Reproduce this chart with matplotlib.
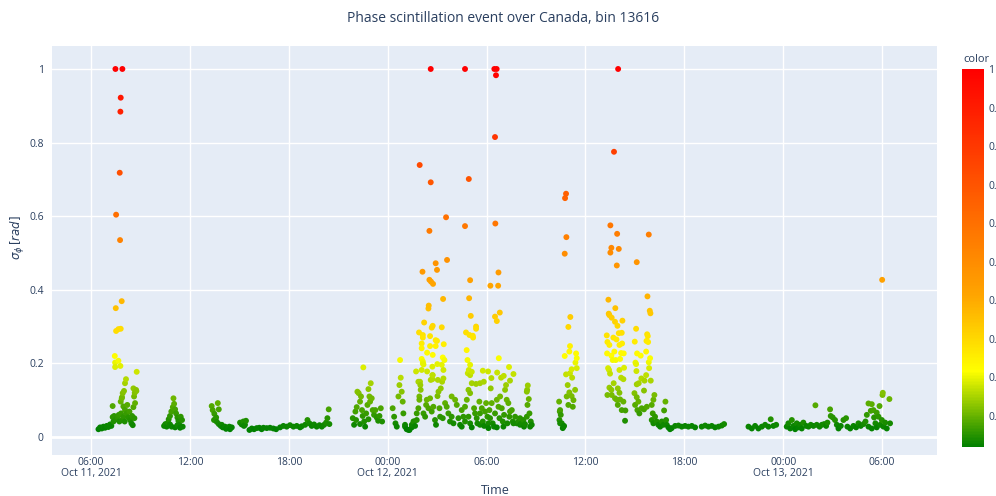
import numpy as np
import pandas as pd
import matplotlib
matplotlib.use("Agg")
import matplotlib.pyplot as plt
import matplotlib.dates as mdates
from matplotlib.colors import LinearSegmentedColormap, Normalize
from matplotlib.ticker import FixedLocator, FuncFormatter

# ---- data: (hours since 2021-10-11 00:00 UT, sigma_phi [rad]) ----
pass_a = [(6.45, 0.021), (6.55, 0.026), (6.65, 0.023), (6.75, 0.028), (6.85, 0.025), (6.95, 0.030),
          (7.05, 0.027), (7.15, 0.034), (7.23, 0.030), (7.31, 0.054), (7.36, 0.042), (7.40, 0.057),
          (7.52, 0.048), (7.60, 0.054), (7.68, 0.060), (7.31, 0.084), (7.80, 0.096), (7.86, 0.105),
          (7.92, 0.119), (8.00, 0.125), (8.06, 0.146), (8.12, 0.157), (7.96, 0.083), (8.06, 0.074),
          (8.16, 0.064), (8.20, 0.087), (8.27, 0.053), (8.33, 0.069), (8.37, 0.046), (8.45, 0.037),
          (8.53, 0.032), (8.57, 0.132), (8.65, 0.120), (8.73, 0.128), (8.61, 0.110), (8.67, 0.092),
          (8.57, 0.081), (8.49, 0.057), (8.63, 0.051), (7.82, 0.064), (7.90, 0.046), (8.04, 0.042),
          (7.72, 0.042), (7.96, 0.054), (7.48, 1.000), (7.90, 1.000), (7.80, 0.922), (7.78, 0.884),
          (7.74, 0.718), (7.52, 0.604), (7.76, 0.535), (7.86, 0.369), (7.50, 0.350), (7.52, 0.288),
          (7.66, 0.293), (7.80, 0.294), (7.44, 0.220), (7.46, 0.202), (7.66, 0.207), (7.46, 0.190),
          (7.78, 0.193), (8.77, 0.177), (8.75, 0.125), (7.88, 0.108)]

pass_b = [(10.43, 0.030), (10.51, 0.035), (10.59, 0.028), (10.67, 0.039), (10.71, 0.048), (10.79, 0.057),
          (10.87, 0.069), (10.96, 0.081), (11.00, 0.105), (11.04, 0.090), (11.10, 0.075), (11.16, 0.064),
          (11.24, 0.053), (11.30, 0.044), (11.36, 0.033), (11.44, 0.055), (11.52, 0.046), (11.56, 0.028),
          (10.89, 0.028), (11.10, 0.026), (11.24, 0.032), (11.40, 0.025), (10.79, 0.034),
          (13.32, 0.084), (13.69, 0.092), (13.38, 0.073), (13.75, 0.075), (13.48, 0.063), (13.59, 0.053),
          (13.46, 0.046), (13.63, 0.041), (13.75, 0.035), (13.87, 0.030), (13.99, 0.026), (14.13, 0.028),
          (14.27, 0.025), (14.39, 0.028), (14.54, 0.026), (14.43, 0.021), (14.19, 0.022), (13.93, 0.033),
          (13.54, 0.048), (15.04, 0.039), (15.14, 0.034), (15.24, 0.042), (15.34, 0.033), (15.40, 0.044),
          (15.28, 0.030)]

pass_c = [(15.61, 0.019), (15.75, 0.023), (15.89, 0.021), (16.05, 0.024), (16.21, 0.025), (16.35, 0.021),
          (16.46, 0.025), (16.66, 0.024), (16.86, 0.025), (17.06, 0.023), (17.23, 0.021), (17.47, 0.026),
          (17.67, 0.030), (17.87, 0.028), (18.07, 0.032), (18.28, 0.028), (18.48, 0.030), (18.68, 0.026),
          (18.78, 0.029), (18.99, 0.033), (19.13, 0.046), (19.25, 0.037), (19.39, 0.030), (19.53, 0.034),
          (19.69, 0.028), (19.86, 0.032), (20.00, 0.028), (20.14, 0.033), (20.26, 0.039), (20.34, 0.051),
          (20.42, 0.075), (20.46, 0.035)]

pass_d = [(21.88, 0.051), (21.96, 0.033), (22.04, 0.069), (22.12, 0.081), (22.16, 0.123), (22.24, 0.119),
          (22.32, 0.096), (22.38, 0.110), (22.44, 0.073), (22.48, 0.057), (22.52, 0.189), (22.57, 0.042),
          (22.63, 0.028), (22.69, 0.064), (22.77, 0.087), (22.83, 0.130), (22.89, 0.110), (22.93, 0.096),
          (22.97, 0.146), (23.03, 0.105), (23.09, 0.073), (23.17, 0.060), (23.25, 0.073), (23.33, 0.053),
          (23.42, 0.044), (23.50, 0.057), (23.58, 0.078), (23.66, 0.042), (22.32, 0.035), (22.83, 0.048),
          (22.08, 0.046), (24.30, 0.078), (24.39, 0.055), (24.47, 0.037), (24.55, 0.028), (24.65, 0.110),
          (24.71, 0.141), (24.75, 0.209), (24.79, 0.161), (24.85, 0.123), (24.91, 0.096), (24.95, 0.064),
          (25.05, 0.033), (25.15, 0.021), (25.32, 0.019), (25.46, 0.026), (25.60, 0.042), (25.72, 0.178),
          (25.76, 0.064), (25.86, 0.150), (25.92, 0.110), (25.26, 0.019), (25.46, 0.033), (25.66, 0.030),
          (25.76, 0.046), (25.86, 0.078), (25.92, 0.101), (26.00, 0.128), (25.96, 0.150), (26.06, 0.182),
          (26.13, 0.205), (26.17, 0.064), (26.27, 0.055), (26.33, 0.087), (26.37, 0.101), (26.47, 0.078),
          (26.57, 0.105), (26.61, 0.155), (26.67, 0.069), (26.77, 0.082), (26.73, 0.168), (26.87, 0.046),
          (26.93, 0.033), (27.02, 0.111), (27.08, 0.123), (27.14, 0.078), (27.18, 0.055), (27.22, 0.132),
          (27.34, 0.051), (27.38, 0.159), (27.48, 0.092), (27.58, 0.082), (27.68, 0.064), (27.78, 0.042),
          (27.88, 0.055), (27.88, 0.110), (27.99, 0.037), (28.09, 0.101), (28.19, 0.087), (28.29, 0.051),
          (28.39, 0.033), (28.49, 0.028), (28.59, 0.055), (28.69, 0.042), (25.56, 0.042), (25.05, 0.028)]

pass_e = [(26.61, 1.000), (28.69, 1.000), (30.47, 1.000), (30.61, 1.000), (30.57, 0.983), (30.51, 0.815),
          (25.94, 0.739), (26.61, 0.692), (28.92, 0.701), (27.54, 0.597), (28.69, 0.573), (30.53, 0.580),
          (26.53, 0.560), (27.60, 0.481), (26.91, 0.472), (26.11, 0.449), (26.99, 0.454), (30.72, 0.447),
          (26.53, 0.427), (26.63, 0.422), (26.75, 0.416), (29.00, 0.426), (30.23, 0.411), (30.70, 0.411),
          (27.36, 0.375), (28.94, 0.377), (26.49, 0.357), (26.47, 0.349), (29.04, 0.329), (30.80, 0.338),
          (30.51, 0.327), (30.62, 0.315), (26.21, 0.311), (26.73, 0.302), (26.67, 0.297), (27.28, 0.298),
          (29.36, 0.300), (29.36, 0.294), (25.90, 0.284), (26.13, 0.277), (26.13, 0.270), (28.75, 0.284),
          (28.96, 0.277), (29.16, 0.275), (29.18, 0.270), (26.57, 0.274), (26.91, 0.263), (26.99, 0.261),
          (26.06, 0.254), (26.06, 0.241), (26.57, 0.247), (27.40, 0.252), (26.91, 0.247), (26.39, 0.229),
          (26.73, 0.223), (28.79, 0.236), (27.34, 0.216), (27.44, 0.209), (30.74, 0.214), (28.84, 0.209),
          (26.06, 0.212), (26.13, 0.200), (26.17, 0.197), (26.71, 0.191), (27.01, 0.198), (27.28, 0.196),
          (29.00, 0.196), (28.92, 0.182), (28.86, 0.173), (29.10, 0.177), (29.00, 0.168), (26.39, 0.178),
          (27.38, 0.182), (26.71, 0.168), (26.71, 0.157), (27.04, 0.155), (27.30, 0.150), (29.77, 0.180),
          (30.09, 0.178), (30.64, 0.175), (31.36, 0.190), (31.63, 0.171), (30.29, 0.160), (31.04, 0.166),
          (30.88, 0.161), (31.42, 0.153), (25.98, 0.141), (29.36, 0.144), (29.60, 0.146), (29.83, 0.150),
          (32.50, 0.140), (32.44, 0.123), (32.56, 0.103)]

pass_f = [(28.80, 0.101), (28.90, 0.128), (29.00, 0.119), (29.10, 0.146), (29.24, 0.078), (29.30, 0.064),
          (29.40, 0.051), (29.44, 0.037), (29.56, 0.096), (29.60, 0.064), (29.71, 0.078), (29.77, 0.042),
          (29.85, 0.030), (29.91, 0.069), (29.97, 0.092), (30.05, 0.055), (30.11, 0.037), (30.17, 0.073),
          (30.21, 0.051), (30.25, 0.132), (30.31, 0.092), (30.37, 0.037), (30.45, 0.028), (30.51, 0.064),
          (30.62, 0.101), (30.72, 0.082), (30.78, 0.051), (30.82, 0.110), (30.92, 0.078), (30.98, 0.042),
          (31.06, 0.060), (31.12, 0.128), (31.18, 0.141), (31.22, 0.101), (31.26, 0.037), (31.32, 0.092),
          (31.38, 0.055), (31.42, 0.069), (31.53, 0.073), (31.59, 0.042), (31.63, 0.037), (31.73, 0.055),
          (31.83, 0.037), (31.93, 0.042), (32.03, 0.051), (32.13, 0.037), (32.23, 0.046), (32.33, 0.035),
          (32.44, 0.055), (32.48, 0.087), (32.46, 0.128), (32.60, 0.064), (32.68, 0.042), (32.74, 0.033),
          (32.64, 0.028), (32.27, 0.028), (32.03, 0.033), (31.02, 0.028), (30.62, 0.026), (30.11, 0.024),
          (29.00, 0.037), (29.10, 0.026), (29.60, 0.033), (28.90, 0.055), (28.49, 0.073), (28.69, 0.082)]

pass_g = [(34.82, 0.661), (34.76, 0.649), (34.84, 0.543), (34.74, 0.498), (35.08, 0.326), (34.96, 0.299),
          (35.06, 0.247), (35.02, 0.232), (34.74, 0.220), (35.43, 0.227), (35.47, 0.214), (35.39, 0.202),
          (35.47, 0.187), (35.16, 0.184), (35.06, 0.173), (34.82, 0.170), (35.19, 0.161), (34.92, 0.141),
          (35.37, 0.128), (35.02, 0.121), (35.16, 0.111), (34.86, 0.110), (35.27, 0.100), (35.23, 0.082),
          (34.96, 0.087), (34.40, 0.096), (34.46, 0.073), (34.50, 0.060), (34.42, 0.046), (34.56, 0.037),
          (34.66, 0.028), (34.62, 0.024), (34.46, 0.037), (34.70, 0.030), (34.44, 0.069),
          (37.98, 1.000), (37.73, 0.775), (37.51, 0.575), (37.92, 0.552), (37.57, 0.514), (37.51, 0.501),
          (38.02, 0.511), (37.90, 0.466), (37.39, 0.373), (37.81, 0.350), (37.41, 0.335), (37.45, 0.331),
          (37.59, 0.324), (37.79, 0.313), (37.94, 0.302), (38.24, 0.316), (37.29, 0.276), (37.69, 0.270),
          (38.02, 0.282), (38.20, 0.283), (37.33, 0.258), (37.45, 0.250), (37.88, 0.265), (38.06, 0.250),
          (38.22, 0.254), (37.31, 0.227), (37.75, 0.232), (37.57, 0.221), (38.32, 0.227), (38.16, 0.228),
          (37.65, 0.209), (37.83, 0.209), (38.10, 0.212), (37.37, 0.187), (37.43, 0.182), (38.06, 0.182),
          (38.34, 0.188), (37.49, 0.172), (38.16, 0.161), (38.30, 0.157), (37.45, 0.134), (37.57, 0.128),
          (37.71, 0.146), (37.96, 0.132), (38.06, 0.120), (37.33, 0.114), (37.59, 0.114), (37.79, 0.105),
          (37.90, 0.101), (38.10, 0.102), (38.30, 0.096), (37.96, 0.087), (38.20, 0.073), (38.42, 0.072),
          (38.40, 0.044),
          (39.84, 0.550), (39.11, 0.475), (39.76, 0.382), (39.90, 0.343), (39.94, 0.336), (39.07, 0.294),
          (39.74, 0.279), (39.78, 0.274), (38.99, 0.259), (39.70, 0.261), (39.80, 0.258), (39.13, 0.227),
          (39.35, 0.221), (39.68, 0.232), (39.92, 0.214), (39.84, 0.203), (39.03, 0.202), (39.07, 0.198),
          (39.09, 0.179), (39.86, 0.187), (39.68, 0.168), (39.58, 0.153), (39.96, 0.153), (39.39, 0.159),
          (39.23, 0.146), (39.11, 0.143), (39.55, 0.126), (38.97, 0.119), (39.11, 0.108), (39.21, 0.096),
          (39.01, 0.087), (39.15, 0.073), (39.27, 0.064), (39.41, 0.078), (39.55, 0.075), (39.72, 0.082),
          (40.02, 0.087), (40.12, 0.101), (40.18, 0.114), (40.08, 0.064), (40.02, 0.046), (40.22, 0.055),
          (40.32, 0.042), (40.42, 0.033), (40.53, 0.028), (40.73, 0.033), (40.85, 0.096), (40.77, 0.072),
          (40.89, 0.046), (41.03, 0.026), (41.13, 0.021), (41.23, 0.024), (40.93, 0.033), (40.63, 0.042),
          (40.12, 0.037)]

pass_h = [(41.44, 0.030), (41.64, 0.031), (41.84, 0.028), (42.04, 0.030), (42.24, 0.028), (42.45, 0.030),
          (42.65, 0.026), (43.05, 0.028), (43.26, 0.031), (43.46, 0.028), (43.66, 0.030), (43.86, 0.026),
          (44.07, 0.028), (44.27, 0.031), (44.41, 0.035),
          (45.89, 0.028), (46.09, 0.023), (46.29, 0.030), (46.49, 0.023), (46.70, 0.028), (46.90, 0.033),
          (47.10, 0.028), (47.24, 0.048), (47.40, 0.030), (47.57, 0.033),
          (48.21, 0.028), (48.31, 0.037), (48.42, 0.023), (48.52, 0.046), (48.62, 0.030), (48.72, 0.021),
          (48.82, 0.037), (48.92, 0.026), (49.02, 0.033), (49.12, 0.023), (49.22, 0.039), (49.39, 0.030),
          (49.53, 0.028), (49.67, 0.033), (49.83, 0.030), (49.95, 0.086), (50.03, 0.033), (50.20, 0.028),
          (50.34, 0.033), (50.48, 0.035), (50.60, 0.030), (50.68, 0.039), (50.84, 0.075), (50.88, 0.057),
          (51.00, 0.053), (51.14, 0.046), (51.25, 0.033), (51.35, 0.023), (51.49, 0.030), (51.65, 0.046),
          (51.81, 0.051), (51.89, 0.028), (52.06, 0.023), (52.26, 0.030), (52.42, 0.026), (52.56, 0.037),
          (52.70, 0.030), (52.87, 0.035), (52.99, 0.042), (53.07, 0.060), (53.17, 0.091), (53.37, 0.089),
          (53.31, 0.071), (53.47, 0.073), (53.51, 0.053), (53.59, 0.037), (53.67, 0.066), (53.78, 0.055),
          (53.84, 0.084), (53.88, 0.033), (53.98, 0.046), (54.02, 0.114), (54.04, 0.120), (54.08, 0.028),
          (54.18, 0.039), (54.28, 0.023), (54.44, 0.103), (54.48, 0.037), (53.17, 0.028), (53.37, 0.023),
          (53.67, 0.026), (54.00, 0.427)]

passes = [pass_a, pass_b, pass_c, pass_d, pass_e, pass_f, pass_g, pass_h]
start = pd.Timestamp("2021-10-11 00:00")
hours = np.array([p[0] for ps in passes for p in ps])
vals = np.array([p[1] for ps in passes for p in ps])
times = start + pd.to_timedelta(hours, unit="h")
order = np.argsort(hours, kind="stable")
times = times[order]
vals = vals[order]

title = "Phase scintillation event over Canada, bin 13616"
x_title = "Time"
y_title = r"$\sigma_\phi\,[rad]$"
cbar_title = "color"
cbar_ticks = [0.1, 0.2, 0.3, 0.4, 0.5, 0.6, 0.7, 0.8, 0.9, 1.0]
y_ticks = [0, 0.2, 0.4, 0.6, 0.8, 1]
x_ticks = pd.date_range("2021-10-11 06:00", "2021-10-13 06:00", freq="6h")

# ---- styling ----
TXT = "#2a3f5f"
FONT = ["Open Sans", "DejaVu Sans"]
plt.rcParams["font.family"] = FONT

cmap = LinearSegmentedColormap.from_list(
    "gyor", [(0.0, "#008000"), (0.2, "#ffff00"), (0.4, "#ffa500"), (1.0, "#ff0000")])
norm = Normalize(vmin=vals.min(), vmax=vals.max())

fig = plt.figure(figsize=(9.96, 4.96), dpi=100)
ax = fig.add_axes([0.0522, 0.0827, 0.8886, 0.8246])
ax.set_facecolor("#E5ECF6")
for s in ax.spines.values():
    s.set_visible(False)

ax.scatter(mdates.date2num(times), vals, c=vals, cmap=cmap, norm=norm, s=18,
           linewidths=0, zorder=3)

x0 = mdates.date2num(start + pd.Timedelta(hours=3.63))
x1 = mdates.date2num(start + pd.Timedelta(hours=57.33))
ax.set_xlim(x0, x1)
ax.set_ylim(-0.049, 1.0625)

ax.yaxis.set_major_locator(FixedLocator(y_ticks))
ax.yaxis.set_major_formatter(FuncFormatter(lambda v, p: f"{v:g}"))
xt = mdates.date2num(x_ticks)
ax.xaxis.set_major_locator(FixedLocator(xt))

def xfmt(v, p):
    d = mdates.num2date(v)
    s = d.strftime("%H:%M")
    if p == 0 or (d.hour == 0 and d.minute == 0):
        s += "\n" + d.strftime("%b %d, %Y").replace(" 0", " ")
    return s

ax.xaxis.set_major_formatter(FuncFormatter(xfmt))
ax.grid(True, color="white", linewidth=1.0, zorder=0)
ax.set_axisbelow(True)
ax.axhline(0, color="white", linewidth=2.0, zorder=1)
ax.tick_params(axis="x", length=0, colors=TXT, labelsize=7.5, pad=1.5)
ax.tick_params(axis="y", length=0, colors=TXT, labelsize=7.5, pad=6)
for lab in ax.get_xticklabels():
    lab.set_linespacing(1.0)

fig.text(0.497, 1 - 491 / 496, x_title, ha="center", va="center", color=TXT, fontsize=9)
fig.text(0.018, 0.52, y_title, ha="center", va="center", rotation=90, color=TXT, fontsize=8.5)
fig.text(0.505, 0.962, title, ha="center", va="center", color=TXT, fontsize=10)

cax = fig.add_axes([0.9659, 0.0988, 0.0221, 0.762])
cb = fig.colorbar(plt.cm.ScalarMappable(norm=norm, cmap=cmap), cax=cax)
cb.outline.set_visible(False)
cb.set_ticks(cbar_ticks)
cb.ax.yaxis.set_major_formatter(FuncFormatter(lambda v, p: f"{v:g}"))
cb.ax.tick_params(length=0, colors=TXT, labelsize=7.5, pad=3)
fig.text(0.9669, 0.868, cbar_title, ha="left", va="bottom", color=TXT, fontsize=8)

fig.savefig("out.png", dpi=100)
